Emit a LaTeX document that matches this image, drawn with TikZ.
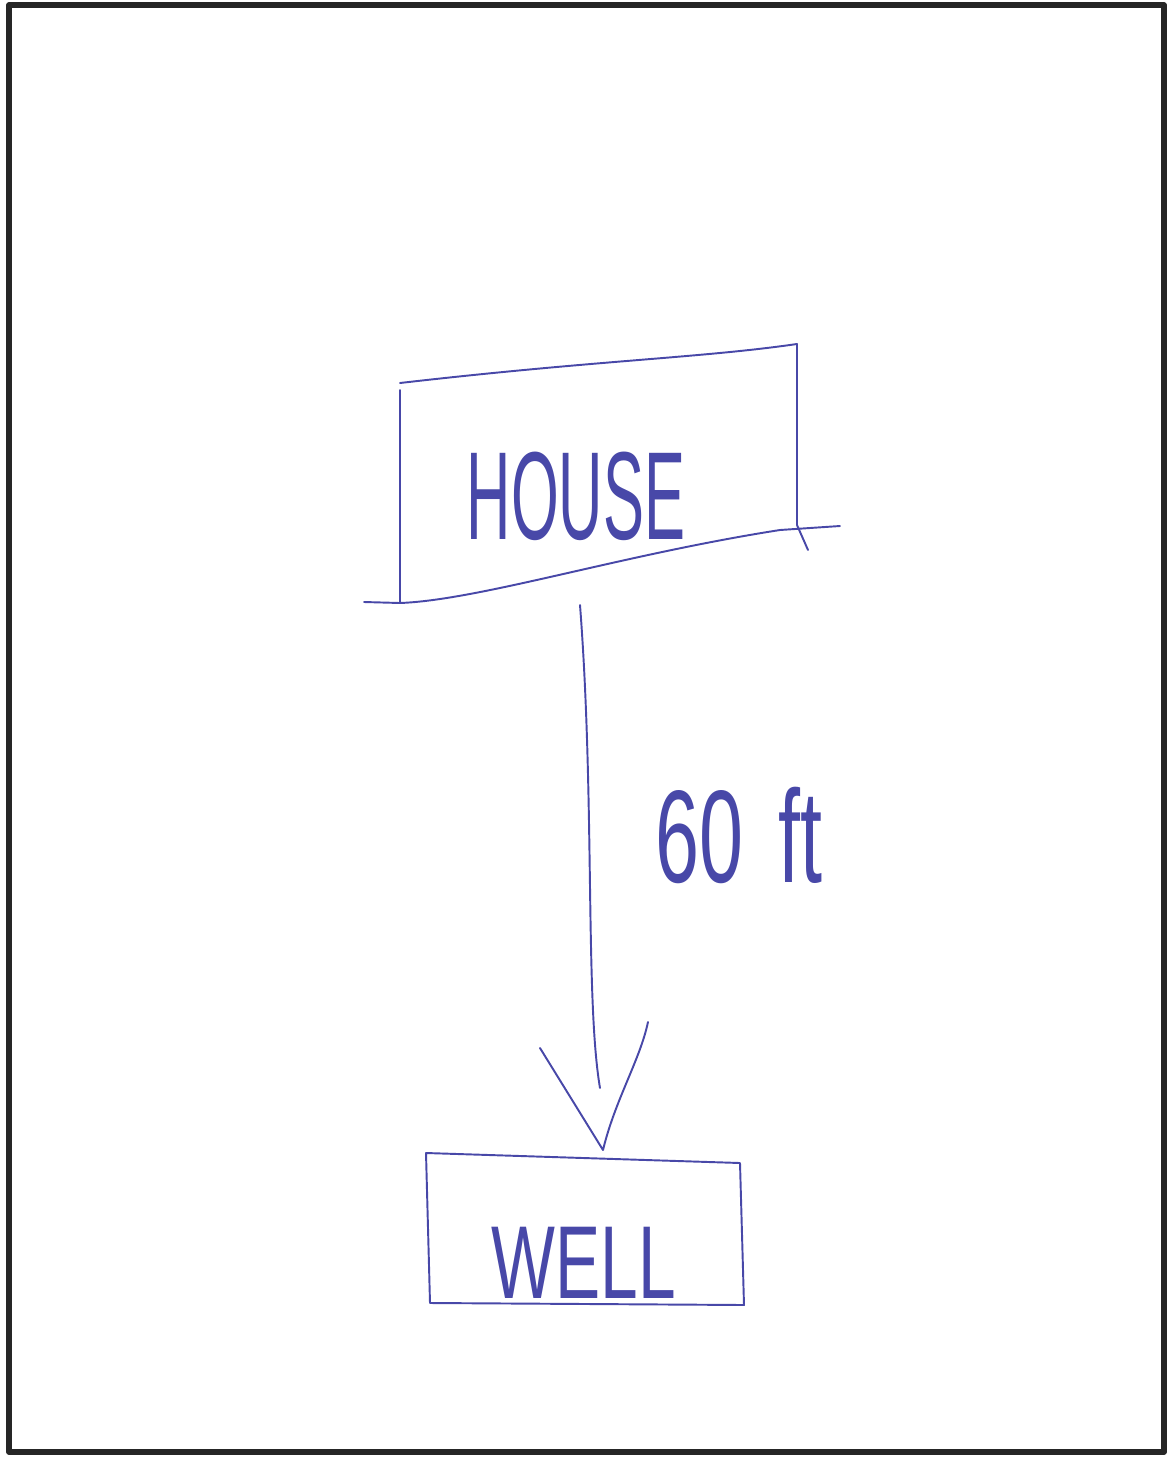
\documentclass[tikz,border=0pt]{standalone}
\usepackage{fontspec}
\setmainfont{Liberation Sans}
\usepackage{tikz}
\usetikzlibrary{calc}
\definecolor{ink}{RGB}{72,72,168}

\begin{document}
\begin{tikzpicture}[x=0.02cm,y=-0.02cm,line cap=round,line join=round]
  \tikzset{pen/.style={ink,line width=1.1pt},
           word/.style={ink,inner sep=0pt,font=\fontsize{46}{54}\selectfont}}
  \useasboundingbox (0,0) rectangle (1168,1458);
  % page frame
  \draw[line width=3.2pt,black!85] (9,5) rectangle (1164,1452);
  % house outline
  \coordinate (htl) at (400,383);
  \coordinate (htr) at (797,344);
  \coordinate (hbl) at (400,603);
  \coordinate (hbr) at (808,550);
  \draw[pen] (htl) .. controls (600,360) and (700,358) .. (htr);
  \draw[pen] (400,390) -- (hbl);
  \draw[pen] (htr) -- (797,525) -- (hbr);
  \draw[pen] (364,602) -- (hbl) .. controls (480,600) and (620,555) .. (780,530) -- (840,526);
  \node[word,xscale=0.76,yscale=1.55] (house) at (576,496) {HOUSE};
  % well outline
  \coordinate (wtl) at (426,1153);
  \coordinate (wtr) at (740,1163);
  \coordinate (wbl) at (430,1303);
  \coordinate (wbr) at (744,1305);
  \draw[pen] (wtl) -- (wtr) -- (wbr) -- (wbl) -- cycle;
  \node[word,xscale=0.77,yscale=1.18,font=\fontsize{50}{58}\selectfont] (well) at (584,1263) {WELL};
  % pipe from house to well
  \coordinate (pa) at (580,605);
  \coordinate (pb) at (600,1088);
  \coordinate (tip) at (603,1150);
  \draw[pen] (pa) .. controls (595,800) and (585,1000) .. (pb);
  \draw[pen] (540,1048) -- (tip) .. controls (615,1100) and (640,1060) .. (648,1022);
  \node[word,xscale=0.9,yscale=1.5,anchor=west,font=\fontsize{50}{58}\selectfont] (dist) at (655,835) {60\hspace{0.45em}ft};
\end{tikzpicture}
\end{document}
